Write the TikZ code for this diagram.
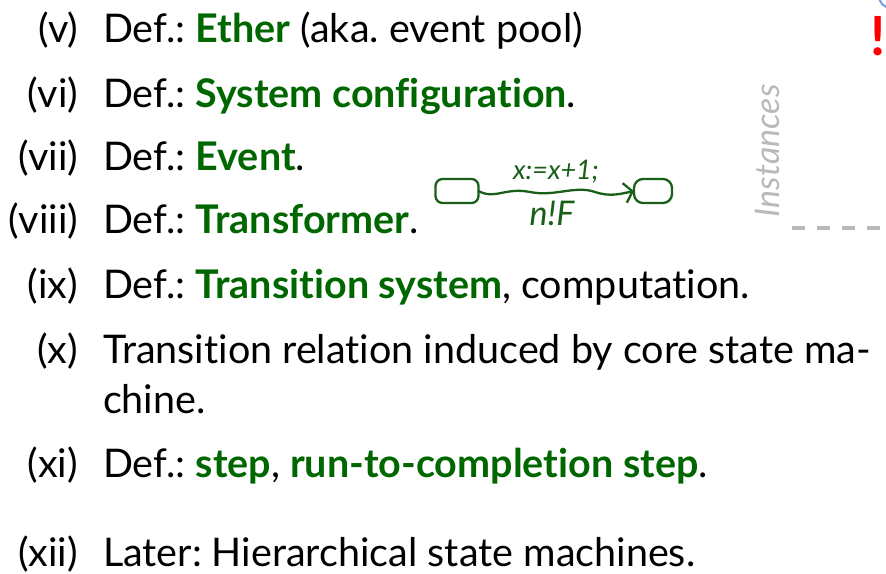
\documentclass[tikz,border=0pt]{standalone}
\usepackage{fontspec}
\setmainfont{Lato}[Ligatures=NoCommon]
\usetikzlibrary{arrows.meta}
\definecolor{defgreen}{RGB}{0,102,0}
\definecolor{pengreen}{RGB}{25,95,25}
\definecolor{instgray}{RGB}{185,185,185}
\definecolor{arcblue}{RGB}{110,160,230}
\newcommand\dterm[1]{\textbf{\color{defgreen}#1}}
\frenchspacing
\begin{document}
\begin{tikzpicture}[x=1pt,y=-1pt,
  every node/.style={inner sep=0pt, outer sep=0pt},
  lbl/.style={anchor=base east, font=\fontsize{39.5}{46}\selectfont},
  txt/.style={anchor=base west, font=\fontsize{39.5}{46}\selectfont},
  state/.style={draw=pengreen, line width=2.3pt, rounded corners=7pt, minimum height=24pt},
  hand/.style={text=pengreen, font=\itshape\fontsize{27}{30}\selectfont}]
\useasboundingbox (0,0) rectangle (886,573);
\begin{scope}
\clip (0,0) rectangle (886,573);
\draw[arcblue, line width=2pt] (891,-4) circle (12);
\end{scope}
\node[anchor=base, text=red, font=\bfseries\fontsize{54}{60}\selectfont] (excl) at (878,55) {!};

\node[lbl] (l5) at (78,42) {(v)};
\node[txt] (t5) at (103,42) {Def.: \dterm{Ether} (aka. event pool)};
\node[lbl] (l6) at (78,107) {(vi)};
\node[txt] (t6) at (103,107) {Def.: \dterm{System configuration}.};
\node[lbl] (l7) at (78,170) {(vii)};
\node[txt] (t7) at (103,170) {Def.: \dterm{Event}.};
\node[lbl] (l8) at (78,233) {(viii)};
\node[txt] (t8) at (103,233) {Def.: \dterm{Transformer}.};
\node[lbl] (l9) at (78,298) {(ix)};
\node[txt] (t9) at (103,298) {Def.: \dterm{Transition system}, computation.};
\node[lbl] (l10) at (78,363) {(x)};
\node[txt] (t10) at (103,363) {Transition relation induced by core state ma-};
\node[txt] (t10b) at (103,413) {chine.};
\node[lbl] (l11) at (78,477) {(xi)};
\node[txt] (t11) at (103,477) {Def.: \dterm{step}, \dterm{run-to-completion step}.};
\node[lbl] (l12) at (78,566) {(xii)};
\node[txt] (t12) at (103,566) {Later: Hierarchical state machines.};

\node[state, minimum width=43pt] (s1) at (457,191) {};
\node[state, minimum width=38pt, rounded corners=9pt] (s2) at (653,191) {};
\draw[pengreen, line width=2.3pt, line cap=round, -{Straight Barb[length=8pt,width=20pt]}]
  (s1.east) .. controls (495,200) and (505,187) .. (530,192)
  .. controls (555,197) and (575,185) .. (595,192)
  .. controls (610,197) and (620,194) .. (s2.west);
\node[hand] (guard) at (556,172) {x:=x+1;};
\node[hand, font=\itshape\fontsize{34}{38}\selectfont] (act) at (552,213) {n!F};

\node[rotate=90, anchor=base west, text=instgray, font=\itshape\fontsize{34}{40}\selectfont] (inst) at (779,217) {Instances};
\coordinate (d1) at (792,228);
\coordinate (d2) at (890,228);
\draw[instgray, line width=4pt, dash pattern=on 13pt off 12pt] (d1) -- (d2);
\end{tikzpicture}
\end{document}
